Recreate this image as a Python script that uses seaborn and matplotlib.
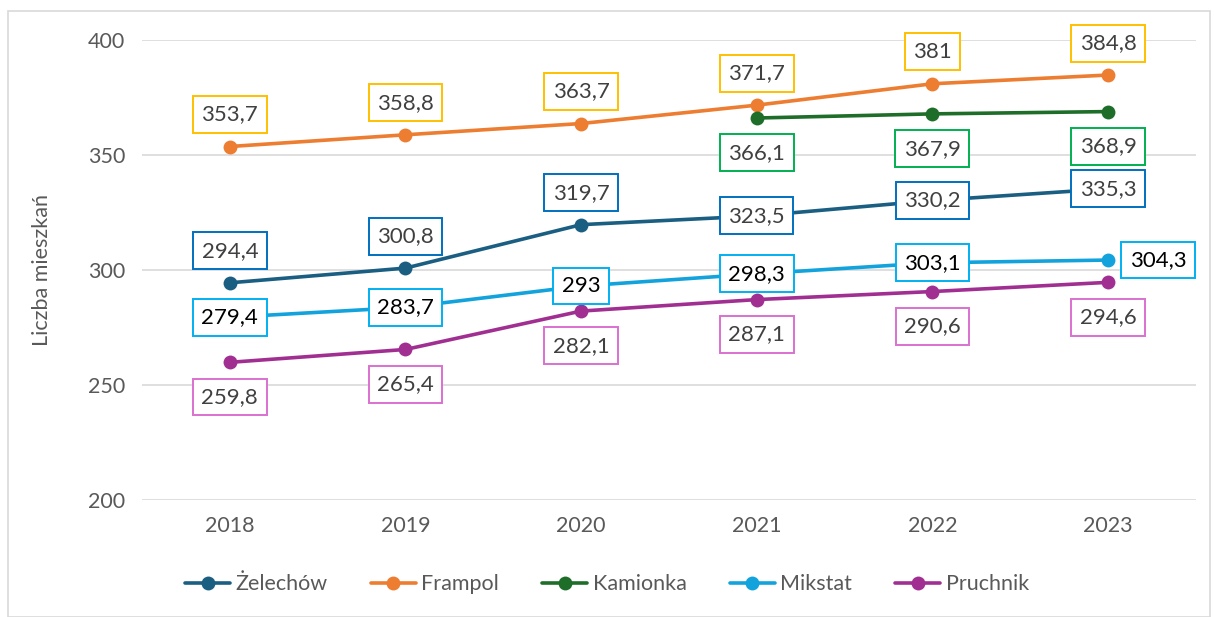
import numpy as np
import pandas as pd
import matplotlib.pyplot as plt
import seaborn as sns
from matplotlib.patches import Rectangle

years = ["2018", "2019", "2020", "2021", "2022", "2023"]
zelechow = [294.4, 300.8, 319.7, 323.5, 330.2, 335.3]
frampol = [353.7, 358.8, 363.7, 371.7, 381.0, 384.8]
kamionka = [np.nan, np.nan, np.nan, 366.1, 367.9, 368.9]
mikstat = [279.4, 283.7, 293.0, 298.3, 303.1, 304.3]
pruchnik = [259.8, 265.4, 282.1, 287.1, 290.6, 294.6]

series = {
    "Żelechów": zelechow,
    "Frampol": frampol,
    "Kamionka": kamionka,
    "Mikstat": mikstat,
    "Pruchnik": pruchnik,
}
line_colors = {
    "Żelechów": "#1A5E82",
    "Frampol": "#ED7D31",
    "Kamionka": "#1E6E2A",
    "Mikstat": "#13A3DC",
    "Pruchnik": "#A12F92",
}
box_colors = {
    "Żelechów": "#0070C0",
    "Frampol": "#FFC000",
    "Kamionka": "#00B050",
    "Mikstat": "#00B0F0",
    "Pruchnik": "#DA70D0",
}
# label placement: u = above, d = below, c = centred on point, r = right
placement = {
    "Żelechów": "uuuccc",
    "Frampol": "uuuuuu",
    "Kamionka": "dddddd",
    "Mikstat": "cccccr",
    "Pruchnik": "dddddd",
}

rows = []
for name, vals in series.items():
    for i, v in enumerate(vals):
        rows.append({"idx": i, "value": v, "gmina": name})
df = pd.DataFrame(rows).dropna()

sns.set_theme(style="white")
plt.rcParams["font.family"] = ["Lato", "DejaVu Sans"]

fig = plt.figure(figsize=(12.14, 6.17), dpi=100)
ax = fig.add_axes([0.117, 0.19, 0.868, 0.745])

sns.lineplot(data=df, x="idx", y="value", hue="gmina", palette=line_colors,
             hue_order=list(series.keys()), marker="o", markersize=10,
             markeredgewidth=0, linewidth=2.6, ax=ax)

ax.set_xlim(-0.5, 5.5)
ax.set_ylim(200, 400)
ax.set_yticks([200, 250, 300, 350, 400])
ax.set_xticks(range(len(years)))
ax.set_xticklabels(years)
ax.tick_params(axis="both", labelsize=15.5, labelcolor="#595959", length=0, pad=12)
ax.grid(axis="y", color="#D9D9D9", linewidth=1.2)
ax.set_axisbelow(True)
for s in ax.spines.values():
    s.set_visible(False)
ax.set_xlabel("")
ax.set_ylabel("Liczba mieszkań", fontsize=15.5, color="#595959", labelpad=26)

offsets = {"u": (0, 23), "d": (0, -25), "c": (0, 0), "r": (36, 0)}
for name, vals in series.items():
    for i, v in enumerate(vals):
        if np.isnan(v):
            continue
        txt = f"{v:g}".replace(".", ",")
        color = "black" if name == "Mikstat" else "#404040"
        ax.annotate(txt, (i, v), xytext=offsets[placement[name][i]],
                    textcoords="offset points", ha="center", va="center",
                    fontsize=16, color=color, zorder=5, annotation_clip=False,
                    bbox=dict(boxstyle="square,pad=0.38", fc="white",
                              ec=box_colors[name], lw=1.4))

handles, labels = ax.get_legend_handles_labels()
ax.get_legend().remove()
fig.legend(handles, labels, loc="center", bbox_to_anchor=(0.5, 0.053), ncol=5,
           frameon=False, fontsize=15.5, handlelength=2.1, handletextpad=0.25,
           columnspacing=2.0, labelcolor="#595959")

fig.patches.append(Rectangle((0.007, 0.0), 0.99, 0.982, transform=fig.transFigure,
                             fill=False, ec="#D9D9D9", lw=1.2))

fig.savefig("out.png", dpi=100)
